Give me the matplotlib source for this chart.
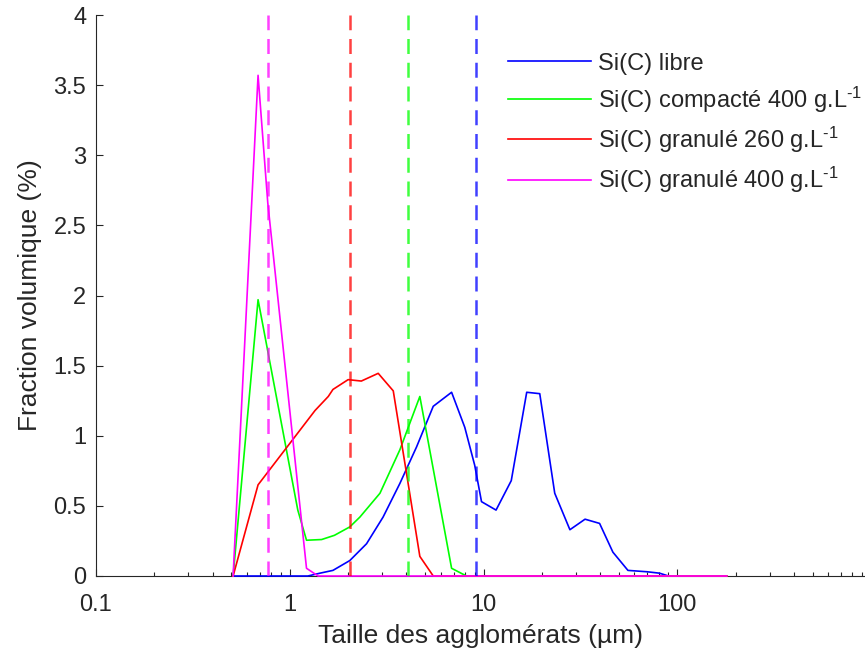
import matplotlib
matplotlib.use("Agg")
import matplotlib.pyplot as plt
from matplotlib.ticker import FixedLocator, FixedFormatter

plt.rcParams['font.family'] = ['Liberation Sans', 'DejaVu Sans']
plt.rcParams['mathtext.fontset'] = 'custom'
plt.rcParams['mathtext.rm'] = 'Liberation Sans'
plt.rcParams['mathtext.it'] = 'Liberation Sans'

# Si(C) libre
x_libre = [0.51, 0.686, 1.0, 1.24, 1.43, 1.67, 2.04, 2.49, 3.03, 3.70, 4.51, 5.50, 6.84,
           8.0, 9.0, 9.76, 11.6, 13.9, 16.7, 19.5, 23.3, 27.9, 33.4, 39.7, 46.5, 55.6,
           70.0, 81.0, 90.0]
y_libre = [0, 0, 0, 0, 0.02, 0.04, 0.11, 0.23, 0.42, 0.66, 0.92, 1.21, 1.31,
           1.06, 0.79, 0.53, 0.47, 0.68, 1.31, 1.30, 0.59, 0.33, 0.405, 0.375, 0.17, 0.04,
           0.03, 0.02, 0.0]

# Si(C) compacte 400 g/L
x_compact = [0.51, 0.686, 1.10, 1.22, 1.46, 1.70, 2.04, 2.30, 2.92, 3.70, 4.69, 6.84, 8.16, 180]
y_compact = [0, 1.97, 0.47, 0.255, 0.26, 0.29, 0.35, 0.42, 0.59, 0.90, 1.28, 0.055, 0.0, 0]

# Si(C) granule 260 g/L
x_gran260 = [0.51, 0.686, 1.35, 1.58, 1.67, 2.0, 2.34, 2.86, 3.42, 4.69, 5.5, 180]
y_gran260 = [0, 0.65, 1.18, 1.28, 1.33, 1.40, 1.39, 1.445, 1.32, 0.14, 0.0, 0]

# Si(C) granule 400 g/L
x_gran400 = [0.51, 0.686, 0.77, 1.22, 1.40, 180]
y_gran400 = [0, 3.57, 2.66, 0.055, 0.0, 0]

# tailles moyennes (lignes verticales)
d_moy = [9.1, 4.08, 2.04, 0.77]

couleurs = ['#0000ff', '#00ff00', '#ff0000', '#ff00ff']
noms = ['Si(C) libre',
        r'Si(C) compacté 400 g.L$^{\text{-1}}$',
        r'Si(C) granulé 260 g.L$^{\text{-1}}$',
        r'Si(C) granulé 400 g.L$^{\text{-1}}$']

gris = '#262626'

fig = plt.figure(figsize=(8.65, 6.6), dpi=100)
ax = fig.add_axes([96 / 865, 84 / 660, 769 / 865, 561 / 660])

series = [(x_libre, y_libre), (x_compact, y_compact), (x_gran260, y_gran260), (x_gran400, y_gran400)]
for (xs, ys), c, nom in zip(series, couleurs, noms):
    ax.plot(xs, ys, color=c, lw=1.2, label=nom, zorder=3, clip_on=False)

for d, c in zip(d_moy, couleurs):
    ax.axvline(d, color=c, lw=1.8, alpha=0.75, dashes=(6, 3.5), zorder=4)

ax.set_xscale('log')
ax.set_xlim(0.1, 930)
ax.set_ylim(0, 4)
ax.xaxis.set_major_locator(FixedLocator([0.1, 1, 10, 100]))
ax.xaxis.set_major_formatter(FixedFormatter(['0.1', '1', '10', '100']))
ax.set_yticks([0, 0.5, 1, 1.5, 2, 2.5, 3, 3.5, 4])
ax.set_yticklabels(['0', '0.5', '1', '1.5', '2', '2.5', '3', '3.5', '4'])

for s in ['top', 'right']:
    ax.spines[s].set_visible(False)
for s in ['left', 'bottom']:
    ax.spines[s].set_color(gris)
    ax.spines[s].set_linewidth(0.8)

ax.tick_params(which='major', direction='in', length=5, width=0.8, color=gris,
               labelcolor=gris, labelsize=17, pad=7)
ax.tick_params(axis='x', which='major', pad=13)
ax.tick_params(which='minor', direction='in', length=3, width=0.8, color=gris)
ax.tick_params(axis='y', which='minor', left=False)

ax.set_xlabel('Taille des agglomérats (µm)', fontsize=19, color=gris, labelpad=6)
ax.set_ylabel('Fraction volumique (%)', fontsize=19, color=gris, labelpad=8)

leg = ax.legend(loc='upper left', bbox_to_anchor=(0.536, 0.933), frameon=False,
                fontsize=17, handlelength=3.5, handletextpad=0.3, labelspacing=0.42,
                borderpad=0, borderaxespad=0)
for t in leg.get_texts():
    t.set_color(gris)

fig.savefig('out.png', dpi=100)
